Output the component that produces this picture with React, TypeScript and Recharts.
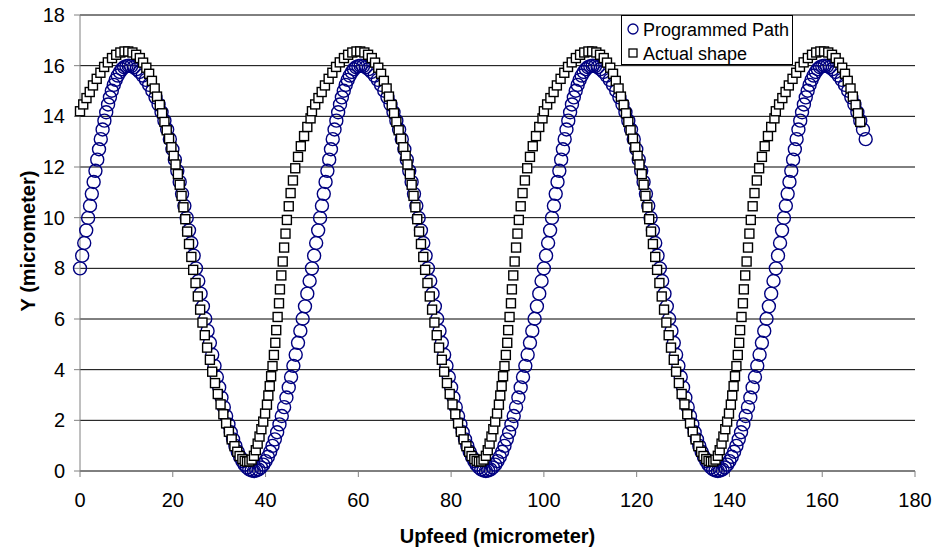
import React from 'react';
import { ScatterChart, Scatter, XAxis, YAxis, CartesianGrid, Label } from 'recharts';

// Programmed Path (blue circles)
const progX = [
  0, 0.47, 0.91, 1.34, 1.75, 2.16, 2.55, 2.94, 3.33, 3.72,
  4.1, 4.48, 4.87, 5.26, 5.65, 6.05, 6.45, 6.86, 7.28, 7.71,
  8.15, 8.59, 9.05, 9.52, 10.01, 10.5, 11.02, 11.59, 12.2, 12.85,
  13.52, 14.21, 14.9, 15.59, 16.28, 16.94, 17.58, 18.2, 18.79, 19.37,
  19.92, 20.45, 20.98, 21.49, 22, 22.5, 23, 23.5, 24, 24.5,
  25, 25.5, 26, 26.5, 27, 27.5, 28, 28.5, 29, 29.5,
  30, 30.5, 31, 31.5, 32, 32.5, 33, 33.5, 34, 34.5,
  35, 35.5, 36, 36.5, 37, 37.5, 38, 38.5, 39, 39.5,
  40, 40.5, 41, 41.5, 42, 42.5, 43, 43.5, 44, 44.5,
  45, 45.5, 46, 46.5, 47, 47.5, 48, 48.5, 49, 49.5,
  50, 50.47, 50.91, 51.34, 51.75, 52.16, 52.55, 52.94, 53.33, 53.72,
  54.1, 54.48, 54.87, 55.26, 55.65, 56.05, 56.45, 56.86, 57.28, 57.71,
  58.15, 58.59, 59.05, 59.52, 60.01, 60.5, 61.02, 61.59, 62.2, 62.85,
  63.52, 64.21, 64.9, 65.59, 66.28, 66.94, 67.58, 68.2, 68.79, 69.37,
  69.92, 70.45, 70.98, 71.49, 72, 72.5, 73, 73.5, 74, 74.5,
  75, 75.5, 76, 76.5, 77, 77.5, 78, 78.5, 79, 79.5,
  80, 80.5, 81, 81.5, 82, 82.5, 83, 83.5, 84, 84.5,
  85, 85.5, 86, 86.5, 87, 87.5, 88, 88.5, 89, 89.5,
  90, 90.5, 91, 91.5, 92, 92.5, 93, 93.5, 94, 94.5,
  95, 95.5, 96, 96.5, 97, 97.5, 98, 98.5, 99, 99.5,
  100, 100.47, 100.91, 101.34, 101.75, 102.16, 102.55, 102.94, 103.33, 103.72,
  104.1, 104.48, 104.87, 105.26, 105.65, 106.05, 106.45, 106.86, 107.28, 107.71,
  108.15, 108.59, 109.05, 109.52, 110.01, 110.5, 111.02, 111.59, 112.2, 112.85,
  113.52, 114.21, 114.9, 115.59, 116.28, 116.94, 117.58, 118.2, 118.79, 119.37,
  119.92, 120.45, 120.98, 121.49, 122, 122.5, 123, 123.5, 124, 124.5,
  125, 125.5, 126, 126.5, 127, 127.5, 128, 128.5, 129, 129.5,
  130, 130.5, 131, 131.5, 132, 132.5, 133, 133.5, 134, 134.5,
  135, 135.5, 136, 136.5, 137, 137.5, 138, 138.5, 139, 139.5,
  140, 140.5, 141, 141.5, 142, 142.5, 143, 143.5, 144, 144.5,
  145, 145.5, 146, 146.5, 147, 147.5, 148, 148.5, 149, 149.5,
  150, 150.47, 150.91, 151.34, 151.75, 152.16, 152.55, 152.94, 153.33, 153.72,
  154.1, 154.48, 154.87, 155.26, 155.65, 156.05, 156.45, 156.86, 157.28, 157.71,
  158.15, 158.59, 159.05, 159.52, 160.01, 160.5, 161.02, 161.59, 162.2, 162.85,
  163.52, 164.21, 164.9, 165.59, 166.28, 166.94, 167.58, 168.2, 168.79, 169.37,
];
const progY = [
  8, 8.5, 9, 9.5, 9.99, 10.47, 10.94, 11.41, 11.85, 12.29,
  12.7, 13.1, 13.48, 13.83, 14.16, 14.47, 14.75, 15.01, 15.24, 15.44,
  15.61, 15.75, 15.86, 15.94, 15.98, 16, 15.98, 15.94, 15.86, 15.75,
  15.61, 15.44, 15.24, 15.01, 14.75, 14.47, 14.16, 13.83, 13.48, 13.1,
  12.7, 12.29, 11.85, 11.41, 10.94, 10.47, 9.99, 9.5, 9, 8.5,
  8, 7.5, 7, 6.5, 6.01, 5.53, 5.06, 4.59, 4.15, 3.71,
  3.3, 2.9, 2.52, 2.17, 1.84, 1.53, 1.25, 0.99, 0.76, 0.56,
  0.39, 0.25, 0.14, 0.06, 0.02, 0, 0.02, 0.06, 0.14, 0.25,
  0.39, 0.56, 0.76, 0.99, 1.25, 1.53, 1.84, 2.17, 2.52, 2.9,
  3.3, 3.71, 4.15, 4.59, 5.06, 5.53, 6.01, 6.5, 7, 7.5,
  8, 8.5, 9, 9.5, 9.99, 10.47, 10.94, 11.41, 11.85, 12.29,
  12.7, 13.1, 13.48, 13.83, 14.16, 14.47, 14.75, 15.01, 15.24, 15.44,
  15.61, 15.75, 15.86, 15.94, 15.98, 16, 15.98, 15.94, 15.86, 15.75,
  15.61, 15.44, 15.24, 15.01, 14.75, 14.47, 14.16, 13.83, 13.48, 13.1,
  12.7, 12.29, 11.85, 11.41, 10.94, 10.47, 9.99, 9.5, 9, 8.5,
  8, 7.5, 7, 6.5, 6.01, 5.53, 5.06, 4.59, 4.15, 3.71,
  3.3, 2.9, 2.52, 2.17, 1.84, 1.53, 1.25, 0.99, 0.76, 0.56,
  0.39, 0.25, 0.14, 0.06, 0.02, 0, 0.02, 0.06, 0.14, 0.25,
  0.39, 0.56, 0.76, 0.99, 1.25, 1.53, 1.84, 2.17, 2.52, 2.9,
  3.3, 3.71, 4.15, 4.59, 5.06, 5.53, 6.01, 6.5, 7, 7.5,
  8, 8.5, 9, 9.5, 9.99, 10.47, 10.94, 11.41, 11.85, 12.29,
  12.7, 13.1, 13.48, 13.83, 14.16, 14.47, 14.75, 15.01, 15.24, 15.44,
  15.61, 15.75, 15.86, 15.94, 15.98, 16, 15.98, 15.94, 15.86, 15.75,
  15.61, 15.44, 15.24, 15.01, 14.75, 14.47, 14.16, 13.83, 13.48, 13.1,
  12.7, 12.29, 11.85, 11.41, 10.94, 10.47, 9.99, 9.5, 9, 8.5,
  8, 7.5, 7, 6.5, 6.01, 5.53, 5.06, 4.59, 4.15, 3.71,
  3.3, 2.9, 2.52, 2.17, 1.84, 1.53, 1.25, 0.99, 0.76, 0.56,
  0.39, 0.25, 0.14, 0.06, 0.02, 0, 0.02, 0.06, 0.14, 0.25,
  0.39, 0.56, 0.76, 0.99, 1.25, 1.53, 1.84, 2.17, 2.52, 2.9,
  3.3, 3.71, 4.15, 4.59, 5.06, 5.53, 6.01, 6.5, 7, 7.5,
  8, 8.5, 9, 9.5, 9.99, 10.47, 10.94, 11.41, 11.85, 12.29,
  12.7, 13.1, 13.48, 13.83, 14.16, 14.47, 14.75, 15.01, 15.24, 15.44,
  15.61, 15.75, 15.86, 15.94, 15.98, 16, 15.98, 15.94, 15.86, 15.75,
  15.61, 15.44, 15.24, 15.01, 14.75, 14.47, 14.16, 13.83, 13.48, 13.1,
];

// Actual shape (black squares)
const actX = [
  0, 0.7, 1.4, 2.1, 2.8, 3.6, 4.4, 5.2, 6, 6.9,
  7.8, 8.7, 9.6, 10.4, 11.3, 12.1, 12.9, 13.6, 14.3, 14.9,
  15.5, 16.1, 16.6, 17.2, 17.7, 18.2, 18.7, 19.2, 19.7, 20.2,
  20.6, 21.1, 21.5, 21.9, 22.3, 22.7, 23.1, 23.5, 24, 24.4,
  24.9, 25.4, 25.9, 26.4, 26.9, 27.4, 28, 28.5, 29.1, 29.7,
  30.3, 30.9, 31.5, 32.1, 32.7, 33.3, 33.9, 34.4, 35, 35.5,
  36, 36.5, 37, 37.5, 37.9, 38.3, 38.7, 39.1, 39.5, 39.9,
  40.3, 40.6, 40.9, 41.2, 41.5, 41.8, 42.1, 42.3, 42.6, 42.9,
  43.1, 43.4, 43.7, 44, 44.3, 44.6, 45, 45.4, 45.9, 46.4,
  47, 47.6, 48.3, 49, 49.7,
  50, 50.7, 51.4, 52.1, 52.8, 53.6, 54.4, 55.2, 56, 56.9,
  57.8, 58.7, 59.6, 60.4, 61.3, 62.1, 62.9, 63.6, 64.3, 64.9,
  65.5, 66.1, 66.6, 67.2, 67.7, 68.2, 68.7, 69.2, 69.7, 70.2,
  70.6, 71.1, 71.5, 71.9, 72.3, 72.7, 73.1, 73.5, 74, 74.4,
  74.9, 75.4, 75.9, 76.4, 76.9, 77.4, 78, 78.5, 79.1, 79.7,
  80.3, 80.9, 81.5, 82.1, 82.7, 83.3, 83.9, 84.4, 85, 85.5,
  86, 86.5, 87, 87.5, 87.9, 88.3, 88.7, 89.1, 89.5, 89.9,
  90.3, 90.6, 90.9, 91.2, 91.5, 91.8, 92.1, 92.3, 92.6, 92.9,
  93.1, 93.4, 93.7, 94, 94.3, 94.6, 95, 95.4, 95.9, 96.4,
  97, 97.6, 98.3, 99, 99.7,
  100, 100.7, 101.4, 102.1, 102.8, 103.6, 104.4, 105.2, 106, 106.9,
  107.8, 108.7, 109.6, 110.4, 111.3, 112.1, 112.9, 113.6, 114.3, 114.9,
  115.5, 116.1, 116.6, 117.2, 117.7, 118.2, 118.7, 119.2, 119.7, 120.2,
  120.6, 121.1, 121.5, 121.9, 122.3, 122.7, 123.1, 123.5, 124, 124.4,
  124.9, 125.4, 125.9, 126.4, 126.9, 127.4, 128, 128.5, 129.1, 129.7,
  130.3, 130.9, 131.5, 132.1, 132.7, 133.3, 133.9, 134.4, 135, 135.5,
  136, 136.5, 137, 137.5, 137.9, 138.3, 138.7, 139.1, 139.5, 139.9,
  140.3, 140.6, 140.9, 141.2, 141.5, 141.8, 142.1, 142.3, 142.6, 142.9,
  143.1, 143.4, 143.7, 144, 144.3, 144.6, 145, 145.4, 145.9, 146.4,
  147, 147.6, 148.3, 149, 149.7,
  150, 150.7, 151.4, 152.1, 152.8, 153.6, 154.4, 155.2, 156, 156.9,
  157.8, 158.7, 159.6, 160.4, 161.3, 162.1, 162.9, 163.6, 164.3, 164.9,
  165.5, 166.1, 166.6, 167.2, 167.7, 168.2,
];
const actY = [
  14.2, 14.47, 14.72, 14.96, 15.22, 15.48, 15.72, 15.95, 16.13, 16.3,
  16.43, 16.52, 16.56, 16.56, 16.52, 16.43, 16.3, 16.12, 15.92, 15.68,
  15.4, 15.1, 14.78, 14.45, 14.12, 13.78, 13.45, 13.12, 12.78, 12.44,
  12.1, 11.72, 11.3, 10.86, 10.41, 9.94, 9.45, 8.96, 8.45, 7.94,
  7.42, 6.89, 6.37, 5.86, 5.36, 4.87, 4.39, 3.92, 3.47, 3.04,
  2.63, 2.24, 1.88, 1.55, 1.25, 0.98, 0.76, 0.59, 0.47, 0.4,
  0.37, 0.38, 0.45, 0.6, 0.82, 1.08, 1.36, 1.65, 1.95, 2.27,
  2.62, 2.98, 3.35, 3.74, 4.14, 4.58, 5.06, 5.56, 6.08, 6.62,
  7.17, 7.72, 8.27, 8.82, 9.37, 9.91, 10.45, 10.97, 11.47, 11.95,
  12.4, 12.82, 13.22, 13.58, 13.92,
  14.2, 14.47, 14.72, 14.96, 15.22, 15.48, 15.72, 15.95, 16.13, 16.3,
  16.43, 16.52, 16.56, 16.56, 16.52, 16.43, 16.3, 16.12, 15.92, 15.68,
  15.4, 15.1, 14.78, 14.45, 14.12, 13.78, 13.45, 13.12, 12.78, 12.44,
  12.1, 11.72, 11.3, 10.86, 10.41, 9.94, 9.45, 8.96, 8.45, 7.94,
  7.42, 6.89, 6.37, 5.86, 5.36, 4.87, 4.39, 3.92, 3.47, 3.04,
  2.63, 2.24, 1.88, 1.55, 1.25, 0.98, 0.76, 0.59, 0.47, 0.4,
  0.37, 0.38, 0.45, 0.6, 0.82, 1.08, 1.36, 1.65, 1.95, 2.27,
  2.62, 2.98, 3.35, 3.74, 4.14, 4.58, 5.06, 5.56, 6.08, 6.62,
  7.17, 7.72, 8.27, 8.82, 9.37, 9.91, 10.45, 10.97, 11.47, 11.95,
  12.4, 12.82, 13.22, 13.58, 13.92,
  14.2, 14.47, 14.72, 14.96, 15.22, 15.48, 15.72, 15.95, 16.13, 16.3,
  16.43, 16.52, 16.56, 16.56, 16.52, 16.43, 16.3, 16.12, 15.92, 15.68,
  15.4, 15.1, 14.78, 14.45, 14.12, 13.78, 13.45, 13.12, 12.78, 12.44,
  12.1, 11.72, 11.3, 10.86, 10.41, 9.94, 9.45, 8.96, 8.45, 7.94,
  7.42, 6.89, 6.37, 5.86, 5.36, 4.87, 4.39, 3.92, 3.47, 3.04,
  2.63, 2.24, 1.88, 1.55, 1.25, 0.98, 0.76, 0.59, 0.47, 0.4,
  0.37, 0.38, 0.45, 0.6, 0.82, 1.08, 1.36, 1.65, 1.95, 2.27,
  2.62, 2.98, 3.35, 3.74, 4.14, 4.58, 5.06, 5.56, 6.08, 6.62,
  7.17, 7.72, 8.27, 8.82, 9.37, 9.91, 10.45, 10.97, 11.47, 11.95,
  12.4, 12.82, 13.22, 13.58, 13.92,
  14.2, 14.47, 14.72, 14.96, 15.22, 15.48, 15.72, 15.95, 16.13, 16.3,
  16.43, 16.52, 16.56, 16.56, 16.52, 16.43, 16.3, 16.12, 15.92, 15.68,
  15.4, 15.1, 14.78, 14.45, 14.12, 13.78,
];

const xTicks = [0, 20, 40, 60, 80, 100, 120, 140, 160, 180];
const yTicks = [0, 2, 4, 6, 8, 10, 12, 14, 16, 18];
const seriesNames = ['Programmed Path', 'Actual shape'];
const xTitle = 'Upfeed (micrometer)';
const yTitle = 'Y (micrometer)';

const progData = progX.map((x, i) => ({ x, y: progY[i] }));
const actData = actX.map((x, i) => ({ x, y: actY[i] }));

const FONT = '"Liberation Sans", Arial, sans-serif';
const NAVY = '#000080';

const CircleShape = (p: any) => (
  <circle cx={p.cx} cy={p.cy} r={6.5} fill="none" stroke={NAVY} strokeWidth={1.4} />
);
const SquareShape = (p: any) => (
  <rect x={p.cx - 4.5} y={p.cy - 4.5} width={9} height={9} fill="#fff" stroke="#000" strokeWidth={1.4} />
);

const tickStyle = { fontSize: 20, fill: '#000', fontFamily: FONT };

export default function App() {
  return (
    <div style={{ position: 'absolute', left: 0, top: 0, width: 935, height: 552, background: '#fff' }}>
      <ScatterChart width={935} height={552} margin={{ top: 15, right: 20, bottom: 0, left: 0 }}>
        <CartesianGrid horizontal={true} vertical={false} stroke="#000" strokeWidth={1} />
        <XAxis
          type="number"
          dataKey="x"
          domain={[0, 180]}
          ticks={xTicks}
          interval={0}
          height={81}
          tickSize={6}
          tickMargin={16}
          tick={tickStyle}
          axisLine={{ stroke: '#808080' }}
          tickLine={{ stroke: '#808080' }}
        >
          <Label
            content={() => (
              <text x={497.5} y={543} textAnchor="middle" fontSize={20} fontWeight="bold" fontFamily={FONT} fill="#000">
                {xTitle}
              </text>
            )}
          />
        </XAxis>
        <YAxis
          type="number"
          dataKey="y"
          domain={[0, 18]}
          ticks={yTicks}
          interval={0}
          width={80}
          tickSize={6}
          tickMargin={9}
          tick={tickStyle}
          axisLine={{ stroke: '#808080' }}
          tickLine={{ stroke: '#808080' }}
        >
          <Label
            content={() => (
              <text x={0} y={0} transform="translate(35,241) rotate(-90)" textAnchor="middle" fontSize={20} fontWeight="bold" fontFamily={FONT} fill="#000">
                {yTitle}
              </text>
            )}
          />
        </YAxis>
        <Scatter name={seriesNames[0]} data={progData} shape={CircleShape} isAnimationActive={false} />
        <Scatter name={seriesNames[1]} data={actData} shape={SquareShape} isAnimationActive={false} />
      </ScatterChart>
      <svg width={172} height={50} style={{ position: 'absolute', left: 621, top: 15 }}>
        <rect x={0.5} y={0.5} width={171} height={49} fill="#fff" stroke="#000" strokeWidth={1} />
        <circle cx={12} cy={14} r={5} fill="none" stroke={NAVY} strokeWidth={1.3} />
        <text x={22} y={20.5} fontSize={18} fontFamily={FONT} fill="#000">{seriesNames[0]}</text>
        <rect x={8} y={34} width={8} height={8} fill="#fff" stroke="#000" strokeWidth={1.3} />
        <text x={22} y={44.5} fontSize={18} fontFamily={FONT} fill="#000">{seriesNames[1]}</text>
      </svg>
    </div>
  );
}
